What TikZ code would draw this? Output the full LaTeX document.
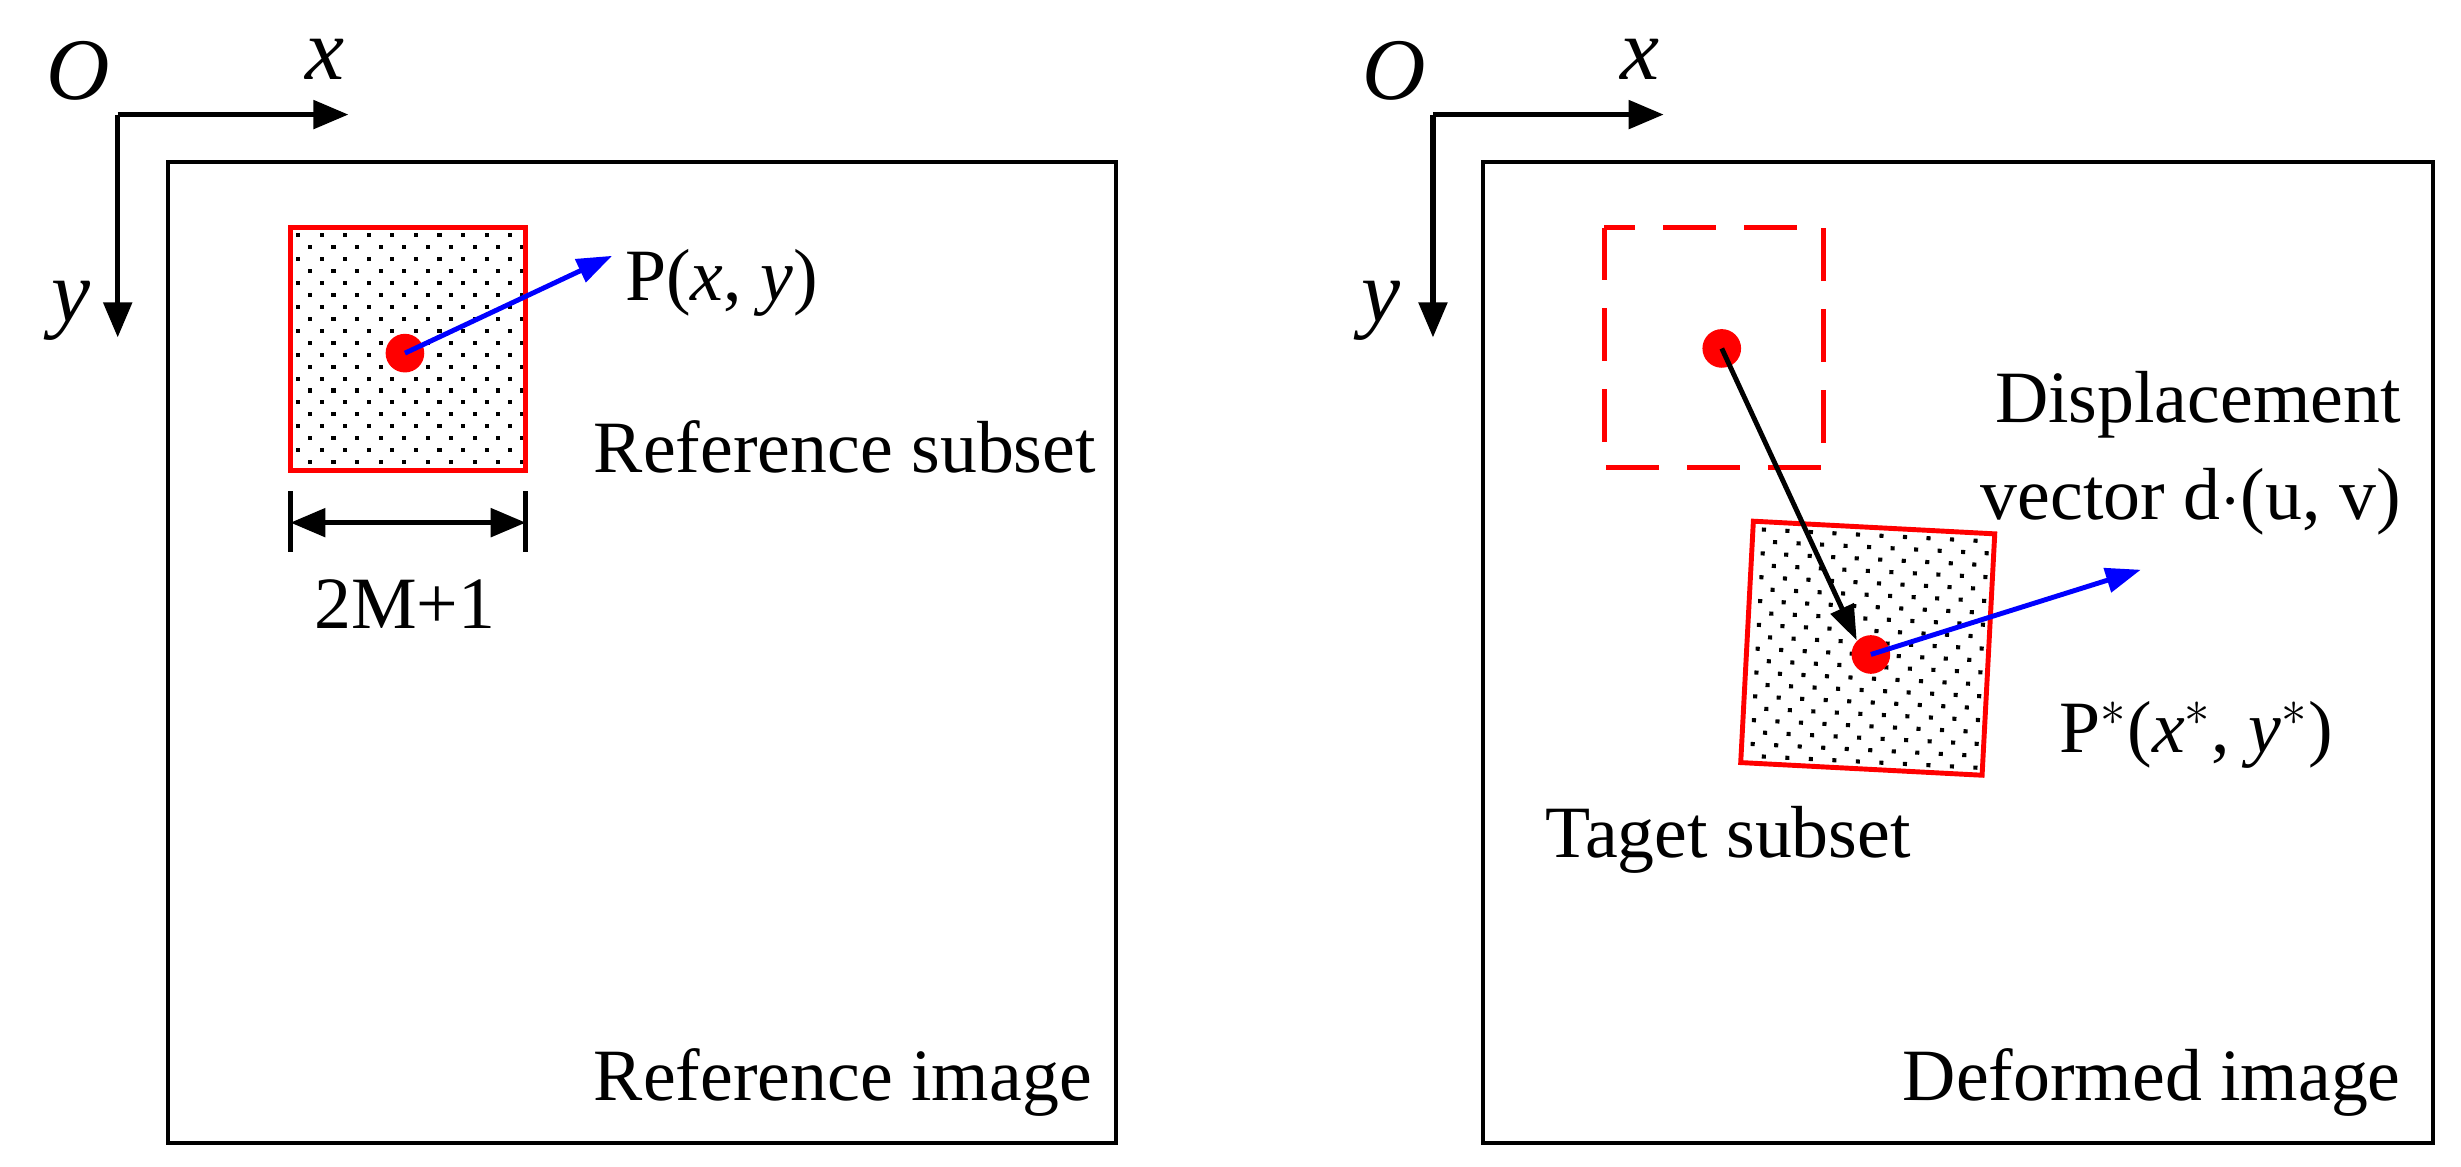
\documentclass[tikz,border=0pt]{standalone}
\usepackage{fontspec}
\setmainfont{Liberation Serif}
\usetikzlibrary{arrows.meta}
\tikzset{
  axis/.style={line width=1.5pt, -{Triangle[length=10pt,width=8pt]}},
  frame/.style={line width=1.1pt},
  subset/.style={draw=red, line width=1.4pt},
  vec/.style={line width=1.4pt, -{Triangle[length=10pt,width=7pt]}},
  lbl/.style={font=\fontsize{21}{24}\selectfont, inner sep=0pt},
  ilbl/.style={font=\fontsize{25}{28}\selectfont\itshape, inner sep=0pt},
  spot/.style={circle, fill=red, minimum size=11pt, inner sep=0pt},
  speck/.style={fill=black},
}
\newcommand{\specks}{% staggered dots in a 150x150 box centred at the origin
  \foreach \r in {0,...,19}{
    \pgfmathsetmacro{\off}{mod(\r,2)*7.5}
    \foreach \c in {0,...,9}{
      \fill[speck] ({-70+\c*15+\off-1.3},{-72+\r*7.6-1.3}) rectangle ++(2.6,2.6);
    }}}
\begin{document}
\begin{tikzpicture}[x=0.015695cm, y=-0.015695cm]
  \useasboundingbox (0,0) rectangle (1568,743);

  % Left: reference image
  \draw[frame] (107,103) rectangle (711,728);
  \coordinate (oL) at (75,73);
  \coordinate (xL) at (222,73);
  \coordinate (yL) at (75,215);
  \draw[axis] (oL) -- (xL);
  \draw[axis] (oL) -- (yL);
  \node[ilbl] at (50,45) {O};
  \node[ilbl] at (207,38) {x};
  \node[ilbl] at (45,198) {y};
  \begin{scope}[shift={(260,222)}]
    \specks
  \end{scope}
  \draw[subset] (185,145) rectangle (335,300);
  \node[spot] (pL) at (258,225) {};
  \coordinate (aL) at (390,163);
  \draw[vec, blue] (pL.center) -- (aL);
  \node[lbl, anchor=west] at (398,180) {P(\textit{x}, \textit{y})};
  \node[lbl, anchor=west] at (378,285) {Reference subset};
  \coordinate (m1) at (185,333);
  \coordinate (m2) at (335,333);
  \draw[line width=1.4pt] (185,313) -- (185,352) (335,313) -- (335,352);
  \draw[line width=1.5pt, {Triangle[length=10pt,width=8pt]}-{Triangle[length=10pt,width=8pt]}] (m1) -- (m2);
  \node[lbl] at (258,385) {2M+1};
  \node[lbl, anchor=west] at (378,690) {Reference image};

  % Right: deformed image
  \draw[frame] (945,103) rectangle (1550,728);
  \coordinate (oR) at (913,73);
  \coordinate (xR) at (1060,73);
  \coordinate (yR) at (913,215);
  \draw[axis] (oR) -- (xR);
  \draw[axis] (oR) -- (yR);
  \node[ilbl] at (888,45) {O};
  \node[ilbl] at (1045,38) {x};
  \node[ilbl] at (880,198) {y};
  \draw[subset, dash pattern=on 15pt off 8pt] (1022,145) rectangle (1162,298);
  \node[spot] (pR) at (1097,222) {};
  \begin{scope}[shift={(1190,413)}, rotate=-3]
    \specks
    \draw[subset] (-77,-77) rectangle (77,77);
  \end{scope}
  \node[spot] (qR) at (1192,417) {};
  \draw[vec] (pR.center) -- (qR.north west);
  \coordinate (aR) at (1364,363);
  \draw[vec, blue] (qR.center) -- (aR);
  \node[lbl, anchor=east] at (1530,258) {Displacement};
  \node[lbl, anchor=east] at (1530,320) {vector d$\cdot$(u, v)};
  \node[lbl, anchor=east] at (1487,468) {P$^{*}$(\textit{x}$^{*}$, \textit{y}$^{*}$)};
  \node[lbl, anchor=west] at (984,535) {Taget subset};
  \node[lbl, anchor=east] at (1530,690) {Deformed image};
\end{tikzpicture}
\end{document}
